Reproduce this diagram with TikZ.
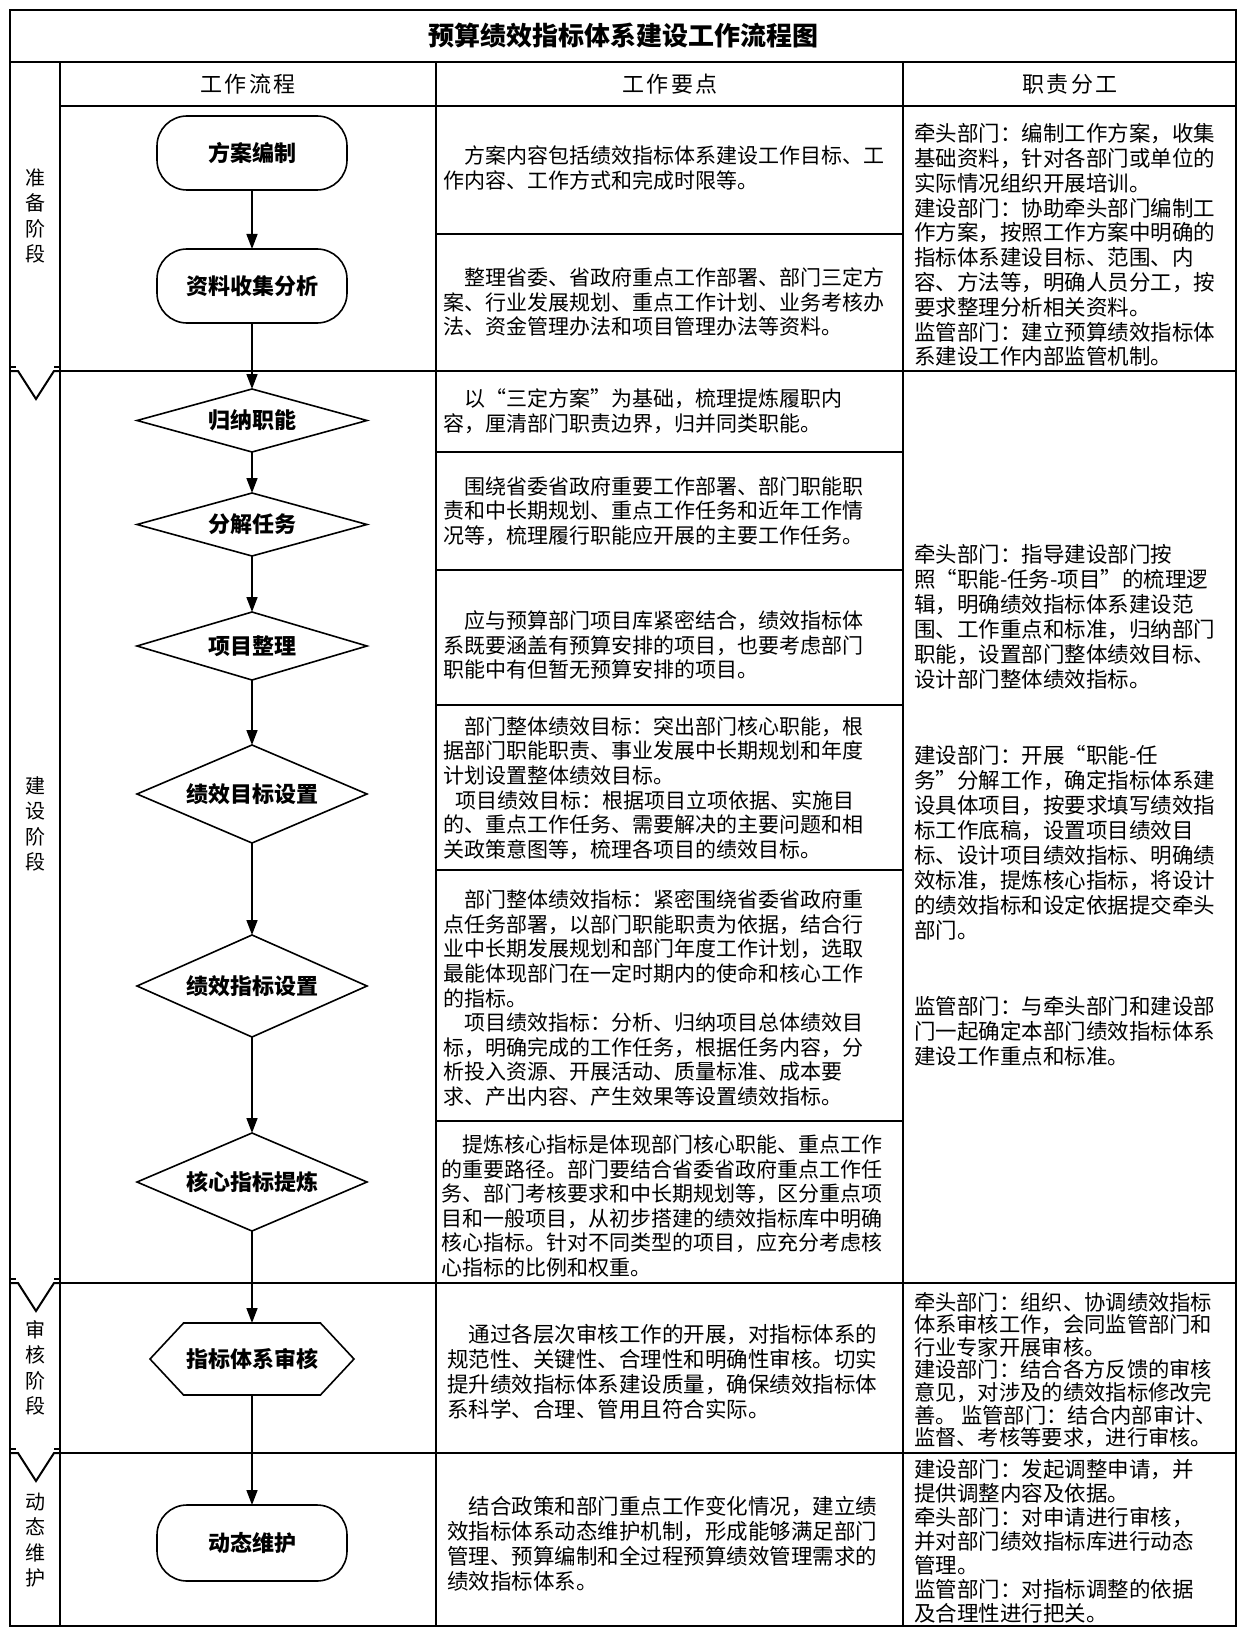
\documentclass[tikz,border=0pt]{standalone}
\usepackage{fontspec}
\setmainfont{Noto Sans CJK SC}
\newfontfamily\headfont[LetterSpace=12]{Noto Sans CJK SC}
\usetikzlibrary{arrows.meta}
\usetikzlibrary{positioning}
\usetikzlibrary{shapes.geometric}
\usetikzlibrary{shapes.symbols}

\begin{document}
\begin{tikzpicture}[x=1pt, y=-1pt, line width=2pt,
    every node/.style={inner sep=0pt},
    stadium/.style={draw, line width=1.6pt, outer sep=0pt, rounded corners=30pt, minimum width=190pt, minimum height=74pt, font=\bfseries\fontsize{22}{22}\selectfont},
    decision/.style={draw, diamond, aspect=3, line width=1.6pt, outer sep=0pt, minimum width=230pt, font=\bfseries\fontsize{22}{22}\selectfont},
    hexbox/.style={draw, signal, signal to=east and west, signal pointer angle=94, line width=1.6pt, outer sep=0pt, minimum width=204pt, minimum height=72pt, font=\bfseries\fontsize{22}{22}\selectfont},
    link/.style={-{Triangle[length=15pt,width=11pt]}, line width=1.6pt},
    cellbox/.style={anchor=west, align=left, font=\fontsize{21}{24.6}\selectfont},
    dutybox/.style={anchor=west, align=left, font=\fontsize{21.5}{24.8}\selectfont},
    stagelabel/.style={align=center, font=\fontsize{20}{25.5}\selectfont},
    headlabel/.style={font=\headfont\fontsize{22}{22}\selectfont}]
    \useasboundingbox (0,0) rectangle (1239,1629);

    % table frame
    \draw (10,10) rectangle (1236,1626);
    \draw (10,62) -- (1236,62);
    \draw (60,106) -- (1236,106);
    \draw (60,62) -- (60,1626);
    \draw (436,62) -- (436,1626);
    \draw (903,62) -- (903,1626);
    \draw (60,371) -- (1236,371);
    \draw (60,1283) -- (1236,1283);
    \draw (60,1453) -- (1236,1453);
    \draw (436,234) -- (903,234);
    \draw (436,452) -- (903,452);
    \draw (436,570) -- (903,570);
    \draw (436,705) -- (903,705);
    \draw (436,870) -- (903,870);
    \draw (436,1121) -- (903,1121);

    % stage notches
    \foreach \y in {371,1283,1453} {
        \draw (10,\y-4) -- (16,\y-4) (54,\y-4) -- (60,\y-4);
        \draw (10,\y) -- (18,\y) -- (36,\y+28) -- (54,\y) -- (60,\y);
    }

    % title and headers
    \node[font=\bfseries\fontsize{26}{26}\selectfont] (title) at (623,36) {预算绩效指标体系建设工作流程图};
    \node[headlabel] (h1) at (248,84) {工作流程};
    \node[headlabel] (h2) at (670,84) {工作要点};
    \node[headlabel] (h3) at (1070,84) {职责分工};

    % stages
    \node[stagelabel] (prep) at (35,216) {准\\备\\阶\\段};
    \node[stagelabel] (build) at (35,824) {建\\设\\阶\\段};
    \node[stagelabel] (check) at (35,1368) {审\\核\\阶\\段};
    \node[stagelabel] (keep) at (35,1540) {动\\态\\维\\护};

    % flow
    \node[stadium] (plan) at (252,153) {方案编制};
    \node[stadium, below=59pt of plan] (collect) {资料收集分析};
    \node[decision, minimum height=63pt, below=66pt of collect] (func) {归纳职能};
    \node[decision, minimum height=63pt, below=41pt of func] (task) {分解任务};
    \node[decision, minimum height=68pt, below=56pt of task] (proj) {项目整理};
    \node[decision, minimum height=98pt, below=65pt of proj] (goal) {绩效目标设置};
    \node[decision, minimum height=102pt, below=92pt of goal] (indic) {绩效指标设置};
    \node[decision, minimum height=98pt, below=96pt of indic] (core) {核心指标提炼};
    \node[hexbox, below=92pt of core] (audit) {指标体系审核};
    \node[stadium, minimum height=76pt, below=110pt of audit] (maint) {动态维护};

    \draw[link] (plan) -- (collect);
    \draw[link] (collect) -- (func);
    \draw[link] (func) -- (task);
    \draw[link] (task) -- (proj);
    \draw[link] (proj) -- (goal);
    \draw[link] (goal) -- (indic);
    \draw[link] (indic) -- (core);
    \draw[link] (core) -- (audit);
    \draw[link] (audit) -- (maint);

    % work points
    \node[cellbox] (p1) at (442,168) {\hspace*{1em}方案内容包括绩效指标体系建设工作目标、工\\作内容、工作方式和完成时限等。};
    \node[cellbox] (p2) at (442,302) {\hspace*{1em}整理省委、省政府重点工作部署、部门三定方\\案、行业发展规划、重点工作计划、业务考核办\\法、资金管理办法和项目管理办法等资料。};
    \node[cellbox] (p3) at (442,411) {\hspace*{1em}以“三定方案”为基础，梳理提炼履职内\\容，厘清部门职责边界，归并同类职能。};
    \node[cellbox] (p4) at (442,511) {\hspace*{1em}围绕省委省政府重要工作部署、部门职能职\\责和中长期规划、重点工作任务和近年工作情\\况等，梳理履行职能应开展的主要工作任务。};
    \node[cellbox] (p5) at (442,645) {\hspace*{1em}应与预算部门项目库紧密结合，绩效指标体\\系既要涵盖有预算安排的项目，也要考虑部门\\职能中有但暂无预算安排的项目。};
    \node[cellbox] (p6) at (442,788) {\hspace*{1em}部门整体绩效目标：突出部门核心职能，根\\据部门职能职责、事业发展中长期规划和年度\\计划设置整体绩效目标。\\\hspace*{0.6em}项目绩效目标：根据项目立项依据、实施目\\的、重点工作任务、需要解决的主要问题和相\\关政策意图等，梳理各项目的绩效目标。};
    \node[cellbox] (p7) at (442,998) {\hspace*{1em}部门整体绩效指标：紧密围绕省委省政府重\\点任务部署，以部门职能职责为依据，结合行\\业中长期发展规划和部门年度工作计划，选取\\最能体现部门在一定时期内的使命和核心工作\\的指标。\\\hspace*{1em}项目绩效指标：分析、归纳项目总体绩效目\\标，明确完成的工作任务，根据任务内容，分\\析投入资源、开展活动、质量标准、成本要\\求、产出内容、产生效果等设置绩效指标。};
    \node[cellbox] (p8) at (440,1206) {\hspace*{1em}提炼核心指标是体现部门核心职能、重点工作\\的重要路径。部门要结合省委省政府重点工作任\\务、部门考核要求和中长期规划等，区分重点项\\目和一般项目，从初步搭建的绩效指标库中明确\\核心指标。针对不同类型的项目，应充分考虑核\\心指标的比例和权重。};
    \node[cellbox, font=\fontsize{21.5}{25}\selectfont] (p9) at (446,1372) {\hspace*{1em}通过各层次审核工作的开展，对指标体系的\\规范性、关键性、合理性和明确性审核。切实\\提升绩效指标体系建设质量，确保绩效指标体\\系科学、合理、管用且符合实际。};
    \node[cellbox, font=\fontsize{21.5}{25}\selectfont] (p10) at (446,1544) {\hspace*{1em}结合政策和部门重点工作变化情况，建立绩\\效指标体系动态维护机制，形成能够满足部门\\管理、预算编制和全过程预算绩效管理需求的\\绩效指标体系。};

    % duties
    \node[dutybox] (d1) at (913,245) {牵头部门：编制工作方案，收集\\基础资料，针对各部门或单位的\\实际情况组织开展培训。\\建设部门：协助牵头部门编制工\\作方案，按照工作方案中明确的\\指标体系建设目标、范围、内\\容、方法等，明确人员分工，按\\要求整理分析相关资料。\\监管部门：建立预算绩效指标体\\系建设工作内部监管机制。};
    \node[dutybox, font=\fontsize{21.5}{25.1}\selectfont] (d2) at (913,805) {牵头部门：指导建设部门按\\照“职能-任务-项目”的梳理逻\\辑，明确绩效指标体系建设范\\围、工作重点和标准，归纳部门\\职能，设置部门整体绩效目标、\\设计部门整体绩效指标。\\[50.2pt]建设部门：开展“职能-任\\务”分解工作，确定指标体系建\\设具体项目，按要求填写绩效指\\标工作底稿，设置项目绩效目\\标、设计项目绩效指标、明确绩\\效标准，提炼核心指标，将设计\\的绩效指标和设定依据提交牵头\\部门。\\[50.2pt]监管部门：与牵头部门和建设部\\门一起确定本部门绩效指标体系\\建设工作重点和标准。};
    \node[dutybox, font=\fontsize{21.3}{22.6}\selectfont] (d3) at (913,1370) {牵头部门：组织、协调绩效指标\\体系审核工作，会同监管部门和\\行业专家开展审核。\\建设部门：结合各方反馈的审核\\意见，对涉及的绩效指标修改完\\善。 监管部门：结合内部审计、\\监督、考核等要求，进行审核。};
    \node[dutybox, font=\fontsize{21.5}{24}\selectfont] (d4) at (913,1541) {建设部门：发起调整申请，并\\提供调整内容及依据。\\牵头部门：对申请进行审核，\\并对部门绩效指标库进行动态\\管理。\\监管部门：对指标调整的依据\\及合理性进行把关。};
\end{tikzpicture}
\end{document}
